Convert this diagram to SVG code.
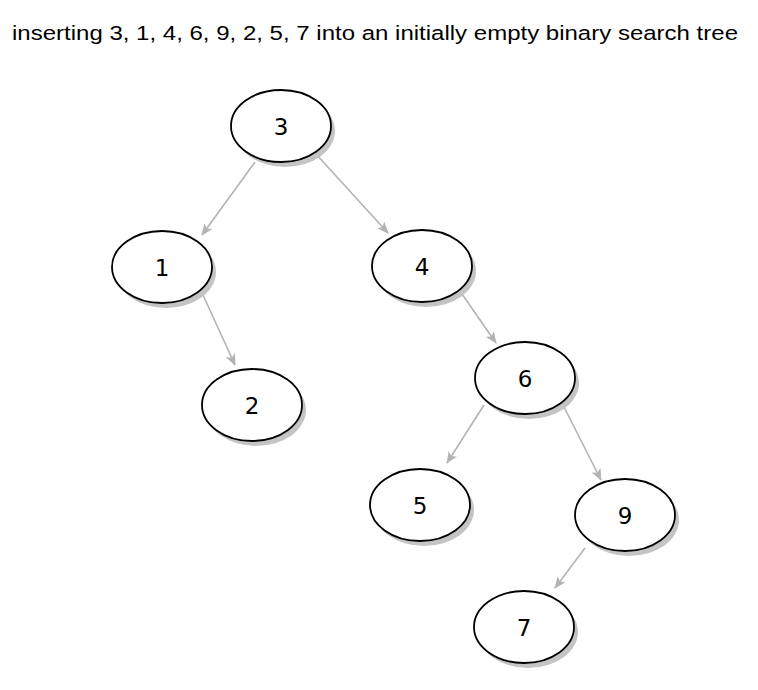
<svg xmlns="http://www.w3.org/2000/svg" width="758" height="690" viewBox="0 0 758 690">
<defs>
<marker id="arr" viewBox="0 0 12 10" refX="11" refY="5" markerWidth="12" markerHeight="10" markerUnits="userSpaceOnUse" orient="auto">
<path d="M0,0 L12,5 L0,10 L3,5 Z" fill="#b3b3b3"/>
</marker>
</defs>
<style>
.sh{fill:#c4c4c4}
.nd{fill:#fff;stroke:#000;stroke-width:1.8}
.lb{font-family:"DejaVu Sans",sans-serif;font-size:23px;text-anchor:middle;fill:#000}
.ed{stroke:#b3b3b3;stroke-width:1.6;fill:none;marker-end:url(#arr)}
.title{font-family:"Liberation Sans",Arial,sans-serif;font-size:20.5px;fill:#000}
</style>
<rect width="758" height="690" fill="#fff"/>
<text class="title" x="12" y="40" textLength="726" lengthAdjust="spacingAndGlyphs">inserting 3, 1, 4, 6, 9, 2, 5, 7 into an initially empty binary search tree</text>
<g id="connectors">
<line class="ed" x1="255" y1="162" x2="202" y2="235"/>
<line class="ed" x1="316" y1="154" x2="388" y2="233"/>
<line class="ed" x1="203" y1="295" x2="235" y2="365"/>
<line class="ed" x1="462" y1="294" x2="496" y2="343"/>
<line class="ed" x1="484" y1="405" x2="447" y2="463"/>
<line class="ed" x1="563" y1="405" x2="601" y2="480"/>
<line class="ed" x1="585" y1="548" x2="555" y2="588"/>
</g>
<g id="n3"><ellipse class="sh" cx="285" cy="131" rx="50" ry="36"/><ellipse class="nd" cx="281" cy="126" rx="50" ry="36"/><text class="lb" x="281" y="134.5">3</text></g>
<g id="n1"><ellipse class="sh" cx="166" cy="272" rx="50" ry="36"/><ellipse class="nd" cx="162" cy="267" rx="50" ry="36"/><text class="lb" x="162" y="275.5">1</text></g>
<g id="n4"><ellipse class="sh" cx="426" cy="271" rx="50" ry="36"/><ellipse class="nd" cx="422" cy="266" rx="50" ry="36"/><text class="lb" x="422" y="274.5">4</text></g>
<g id="n2"><ellipse class="sh" cx="256" cy="410" rx="50" ry="36"/><ellipse class="nd" cx="252" cy="405" rx="50" ry="36"/><text class="lb" x="252" y="413.5">2</text></g>
<g id="n6"><ellipse class="sh" cx="529" cy="383" rx="50" ry="36"/><ellipse class="nd" cx="525" cy="378" rx="50" ry="36"/><text class="lb" x="525" y="386.5">6</text></g>
<g id="n5"><ellipse class="sh" cx="424" cy="510" rx="50" ry="36"/><ellipse class="nd" cx="420" cy="505" rx="50" ry="36"/><text class="lb" x="420" y="513.5">5</text></g>
<g id="n9"><ellipse class="sh" cx="629" cy="520" rx="50" ry="36"/><ellipse class="nd" cx="625" cy="515" rx="50" ry="36"/><text class="lb" x="625" y="523.5">9</text></g>
<g id="n7"><ellipse class="sh" cx="528" cy="632" rx="50" ry="36"/><ellipse class="nd" cx="524" cy="627" rx="50" ry="36"/><text class="lb" x="524" y="635.5">7</text></g>
</svg>
